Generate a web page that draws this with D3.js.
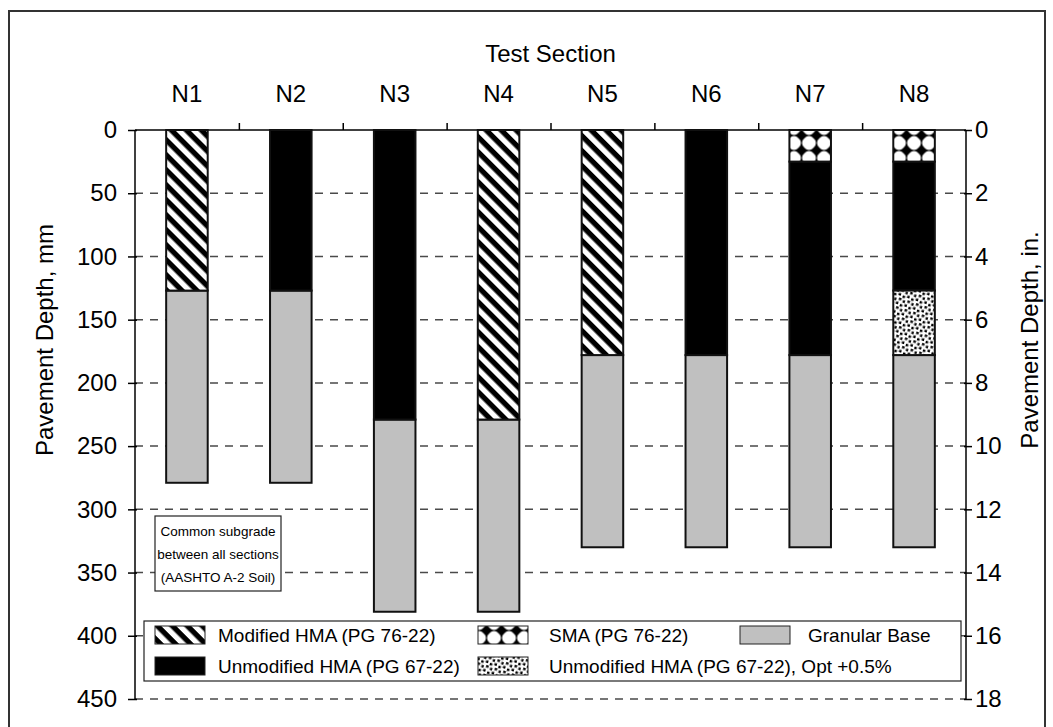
<!DOCTYPE html>
<html>
<head>
<meta charset="utf-8">
<script src="https://cdn.jsdelivr.net/npm/d3@7/dist/d3.min.js"></script>
<style>
  html, body { margin: 0; padding: 0; background: #fff; }
  text { font-family: "Liberation Sans", Arial, sans-serif; fill: #000; }
</style>
</head>
<body>
<svg id="chart" width="1053" height="727"></svg>
<script>
// ---------------- data ----------------
const sections = ["N1", "N2", "N3", "N4", "N5", "N6", "N7", "N8"];
// [section, top depth mm, bottom depth mm]
const modifiedHMA   = [["N1", 0, 127], ["N4", 0, 229], ["N5", 0, 178]];
const unmodifiedHMA = [["N2", 0, 127], ["N3", 0, 229], ["N6", 0, 178], ["N7", 25, 178], ["N8", 25, 127]];
const smaLayer      = [["N7", 0, 25], ["N8", 0, 25]];
const unmodOptLayer = [["N8", 127, 178]];
const granularBase  = [["N1", 127, 279], ["N2", 127, 279], ["N3", 229, 381], ["N4", 229, 381],
                       ["N5", 178, 330], ["N6", 178, 330], ["N7", 178, 330], ["N8", 178, 330]];
const mmTicks = [0, 50, 100, 150, 200, 250, 300, 350, 400, 450];
const inTicks = [0, 2, 4, 6, 8, 10, 12, 14, 16, 18];
const legendLabels = ["Modified HMA (PG 76-22)", "SMA (PG 76-22)", "Granular Base",
                      "Unmodified HMA (PG 67-22)", "Unmodified HMA (PG 67-22), Opt +0.5%"];
const noteLines = ["Common subgrade", "between all sections", "(AASHTO A-2 Soil)"];

// ---------------- layout ----------------
const svg = d3.select("#chart");
const pL = 135, pR = 966, pT = 130, pB = 699;

// frame
svg.append("rect").attr("x", 9).attr("y", 11).attr("width", 1036).attr("height", 740)
  .attr("fill", "none").attr("stroke", "#333").attr("stroke-width", 2);

// patterns
const defs = svg.append("defs");
const pHatch = defs.append("pattern").attr("id", "hatch").attr("patternUnits", "userSpaceOnUse")
  .attr("width", 10.6).attr("height", 10.6).attr("patternTransform", "rotate(45)");
pHatch.append("rect").attr("width", 10.6).attr("height", 10.6).attr("fill", "#fff");
pHatch.append("rect").attr("width", 10.6).attr("height", 5.3).attr("fill", "#000");

const pSma = defs.append("pattern").attr("id", "sma").attr("patternUnits", "userSpaceOnUse")
  .attr("width", 15).attr("height", 15).attr("x", 6.5).attr("y", 0.5);
pSma.append("rect").attr("width", 15).attr("height", 15).attr("fill", "#000");
pSma.append("circle").attr("cx", 7.5).attr("cy", 7.5).attr("r", 6.9).attr("fill", "#fff");
[[0, 0], [15, 0], [0, 15], [15, 15]].forEach(([cx, cy]) =>
  pSma.append("path").attr("d", `M${cx - 5.8},${cy}L${cx},${cy - 5.8}L${cx + 5.8},${cy}L${cx},${cy + 5.8}Z`).attr("fill", "#000"));

const pDot = defs.append("pattern").attr("id", "dots").attr("patternUnits", "userSpaceOnUse")
  .attr("width", 9).attr("height", 9).attr("patternTransform", "rotate(18)");
pDot.append("rect").attr("width", 9).attr("height", 9).attr("fill", "#fff");
[[0.5, 0.5], [5, 1.8], [2.2, 5], [6.6, 6.3]].forEach(([px, py]) =>
  pDot.append("rect").attr("x", px).attr("y", py).attr("width", 2.5).attr("height", 2.5).attr("fill", "#000"));

// scales
const x = d3.scaleBand().domain(sections).range([pL, pR]).paddingInner(0.6).paddingOuter(0.3);
const xIdx = d3.scaleLinear().domain([0, sections.length]).range([pL, pR]);
const y = d3.scaleLinear().domain([0, 450]).range([pT, pB]);
const yIn = d3.scaleLinear().domain([0, 18]).range([pT, pB]);

// gridlines
svg.append("g").selectAll("line").data(mmTicks.filter(d => d > 0)).join("line")
  .attr("x1", pL).attr("x2", pR).attr("y1", d => y(d)).attr("y2", d => y(d))
  .attr("stroke", "#4a4a4a").attr("stroke-width", 1.5).attr("stroke-dasharray", "8,7");

// axes
const fontAxis = 24;
const gl = svg.append("g").attr("transform", `translate(${pL},0)`)
  .call(d3.axisLeft(y).tickValues(mmTicks).tickSize(7).tickPadding(11));
gl.selectAll(".tick line").attr("x2", -7).attr("x1", 2);
const gr = svg.append("g").attr("transform", `translate(${pR},0)`)
  .call(d3.axisRight(yIn).tickValues(inTicks).tickSize(6).tickPadding(3));
gr.selectAll(".tick line").attr("x1", -2).attr("x2", 6);
const gt = svg.append("g").attr("transform", `translate(0,${pT})`)
  .call(d3.axisTop(xIdx).tickValues(d3.range(1, sections.length)).tickSize(7).tickFormat(""));
[gl, gr, gt].forEach(g => {
  g.select(".domain").attr("stroke", "#000").attr("stroke-width", 1.5);
  g.selectAll(".tick line").attr("stroke", "#000").attr("stroke-width", 1.5);
  g.selectAll(".tick text").attr("font-size", fontAxis).attr("font-family", "Liberation Sans, Arial, sans-serif").attr("fill", "#000");
});
gl.select(".domain").attr("d", `M0,${pT}V${pB}`);
gr.select(".domain").attr("d", `M0,${pT}V${pB}`);
gt.select(".domain").attr("d", `M${pL},0H${pR}`);

// category labels
svg.append("g").selectAll("text").data(sections).join("text")
  .attr("x", d => x(d) + x.bandwidth() / 2).attr("y", 102)
  .attr("text-anchor", "middle").attr("font-size", fontAxis).text(d => d);

svg.append("text").attr("x", (pL + pR) / 2).attr("y", 62).attr("text-anchor", "middle")
  .attr("font-size", fontAxis).text("Test Section");
svg.append("text").attr("transform", `translate(53,340) rotate(-90)`)
  .attr("text-anchor", "middle").attr("font-size", fontAxis).text("Pavement Depth, mm");
svg.append("text").attr("transform", `translate(1038,340) rotate(-90)`)
  .attr("text-anchor", "middle").attr("font-size", fontAxis).text("Pavement Depth, in.");

// bars
function drawLayer(data, fill) {
  svg.append("g").selectAll("rect").data(data).join("rect")
    .attr("x", d => x(d[0])).attr("width", x.bandwidth())
    .attr("y", d => y(d[1])).attr("height", d => y(d[2]) - y(d[1]))
    .attr("fill", fill).attr("stroke", "#111").attr("stroke-width", 2);
}
drawLayer(granularBase, "#c0c0c0");
drawLayer(modifiedHMA, "url(#hatch)");
drawLayer(unmodifiedHMA, "#000");
drawLayer(smaLayer, "url(#sma)");
drawLayer(unmodOptLayer, "url(#dots)");

// annotation box
const note = svg.append("g");
note.append("rect").attr("x", 155).attr("y", 516).attr("width", 126).attr("height", 75)
  .attr("fill", "#fff").attr("stroke", "#222").attr("stroke-width", 1.2);
note.selectAll("text").data(noteLines).join("text")
  .attr("x", 218).attr("y", (d, i) => 536 + i * 23).attr("text-anchor", "middle")
  .attr("font-size", 13.5).text(d => d);

// legend
const lg = svg.append("g");
lg.append("rect").attr("x", 144).attr("y", 621).attr("width", 817).attr("height", 60)
  .attr("fill", "#fff").attr("stroke", "#222").attr("stroke-width", 1.2);
const legendFills = ["url(#hatch)", "url(#sma)", "#c0c0c0", "#000", "url(#dots)"];
const legendPos = [[155, 626, 218], [478, 626, 549], [740, 626, 808], [155, 657, 218], [478, 657, 549]];
legendLabels.forEach((lab, i) => {
  const [sx, sy, tx] = legendPos[i];
  lg.append("rect").attr("x", sx).attr("y", sy).attr("width", 50).attr("height", 18)
    .attr("fill", legendFills[i]).attr("stroke", "#222").attr("stroke-width", 1);
  lg.append("text").attr("x", tx).attr("y", sy + 16).attr("font-size", 19).text(lab);
});
</script>
</body>
</html>
